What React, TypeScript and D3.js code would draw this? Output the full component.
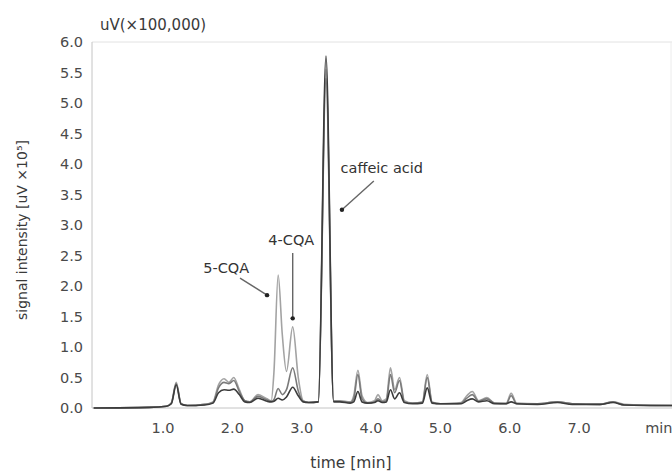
import React from "react";
import * as d3 from "d3";

const times = [0.0, 0.8, 1.05, 1.12, 1.19, 1.26, 1.35, 1.6, 1.72, 1.8, 1.88, 1.95, 2.02, 2.1, 2.18, 2.25, 2.37, 2.5, 2.56, 2.6, 2.66, 2.72, 2.78, 2.87, 2.95, 3.02, 3.1, 3.24, 3.35, 3.46, 3.55, 3.7, 3.75, 3.81, 3.87, 3.95, 4.05, 4.1, 4.16, 4.22, 4.28, 4.34, 4.41, 4.48, 4.6, 4.74, 4.81, 4.88, 5.0, 5.2, 5.3, 5.38, 5.46, 5.55, 5.67, 5.78, 5.95, 6.02, 6.1, 6.4, 6.69, 6.9, 7.3, 7.49, 7.65, 8.34];
const traceA = [0, 0.01, 0.03, 0.08, 0.42, 0.07, 0.04, 0.06, 0.1, 0.38, 0.48, 0.42, 0.5, 0.3, 0.12, 0.1, 0.22, 0.15, 0.12, 0.6, 2.18, 1.2, 0.6, 1.33, 0.5, 0.12, 0.09, 0.1, 5.55, 0.12, 0.12, 0.1, 0.2, 0.62, 0.2, 0.09, 0.12, 0.22, 0.12, 0.15, 0.66, 0.3, 0.5, 0.12, 0.08, 0.1, 0.55, 0.1, 0.07, 0.08, 0.09, 0.2, 0.27, 0.12, 0.17, 0.08, 0.08, 0.24, 0.08, 0.07, 0.1, 0.07, 0.06, 0.1, 0.06, 0.04];
const traceB = [0, 0.01, 0.03, 0.08, 0.4, 0.07, 0.04, 0.06, 0.09, 0.33, 0.42, 0.4, 0.45, 0.27, 0.12, 0.1, 0.19, 0.13, 0.11, 0.14, 0.32, 0.22, 0.3, 0.66, 0.28, 0.11, 0.09, 0.1, 5.4, 0.11, 0.11, 0.09, 0.15, 0.55, 0.15, 0.08, 0.1, 0.15, 0.1, 0.12, 0.55, 0.25, 0.45, 0.1, 0.08, 0.09, 0.5, 0.09, 0.07, 0.07, 0.08, 0.16, 0.22, 0.11, 0.15, 0.08, 0.07, 0.2, 0.07, 0.07, 0.1, 0.07, 0.06, 0.1, 0.05, 0.04];
const traceC = [0, 0.01, 0.03, 0.07, 0.38, 0.06, 0.04, 0.05, 0.08, 0.25, 0.3, 0.29, 0.31, 0.22, 0.1, 0.09, 0.16, 0.11, 0.1, 0.11, 0.16, 0.13, 0.18, 0.34, 0.2, 0.1, 0.09, 0.1, 5.77, 0.1, 0.1, 0.08, 0.1, 0.27, 0.1, 0.08, 0.09, 0.12, 0.09, 0.1, 0.3, 0.15, 0.25, 0.09, 0.07, 0.08, 0.33, 0.08, 0.07, 0.07, 0.07, 0.12, 0.15, 0.1, 0.12, 0.07, 0.07, 0.1, 0.07, 0.06, 0.09, 0.06, 0.06, 0.09, 0.05, 0.04];

const traceColors = ["#a3a3a3", "#7a7a7a", "#3c3c3c"];
const yTicks = [0, 0.5, 1, 1.5, 2, 2.5, 3, 3.5, 4, 4.5, 5, 5.5, 6];
const xTicks = [1, 2, 3, 4, 5, 6, 7];

const annotations = [
  { label: "caffeic acid", tx: 3.56, ty: 3.93, lx0: 4.04, ly0: 3.72, lx1: 3.58, ly1: 3.25, anchor: "start" },
  { label: "4-CQA", tx: 2.85, ty: 2.75, lx0: 2.87, ly0: 2.54, lx1: 2.87, ly1: 1.47, anchor: "middle" },
  { label: "5-CQA", tx: 1.91, ty: 2.3, lx0: 2.11, ly0: 2.13, lx1: 2.5, ly1: 1.85, anchor: "middle" },
];

export default function App() {
  const W = 672, H = 472;
  const x = d3.scaleLinear().domain([0, 8.34]).range([93.7, 672]);
  const y = d3.scaleLinear().domain([0, 6]).range([408, 42]);
  const line = d3
    .line<number>()
    .x((_, i) => x(times[i]))
    .y((d) => y(d))
    .curve(d3.curveMonotoneX);
  const seg = d3.line<[number, number]>().x((d) => x(d[0])).y((d) => y(d[1]));
  const traces = [traceA, traceB, traceC];
  const font = "'DejaVu Sans', sans-serif";
  return (
    <svg width={W} height={H} style={{ position: "absolute", left: 0, top: 0, background: "#fff" }}>
      <rect width={W} height={H} fill="#fff" />
      <line x1={92} x2={672} y1={42} y2={42} stroke="#e2e2e2" />
      <line x1={671} x2={671} y1={42} y2={408} stroke="#ececec" />
      <line x1={92} x2={92} y1={42} y2={408} stroke="#c4c4c4" />
      <line x1={92} x2={672} y1={408} y2={408} stroke="#c4c4c4" />
      {yTicks.map((t) => (
        <text key={t} x={83} y={y(t)} dy="0.36em" textAnchor="end" fontFamily={font} fontSize={14.5} fill="#4a4a4a">
          {t.toFixed(1)}
        </text>
      ))}
      {xTicks.map((t) => (
        <text key={t} x={x(t)} y={433} textAnchor="middle" fontFamily={font} fontSize={14.5} fill="#4a4a4a">
          {t.toFixed(1)}
        </text>
      ))}
      <text x={x(8.15)} y={433} textAnchor="middle" fontFamily={font} fontSize={14.5} fill="#4a4a4a">min</text>
      <text x={100} y={30} fontFamily={font} fontSize={15} fill="#3a3a3a">uV(×100,000)</text>
      <text x={351} y={468} textAnchor="middle" fontFamily={font} fontSize={15.5} fill="#3a3a3a">time [min]</text>
      <text transform="translate(27,230) rotate(-90)" textAnchor="middle" fontFamily={font} fontSize={14} fill="#3a3a3a">
        signal intensity [uV ×10⁵]
      </text>
      <defs>
        <clipPath id="plot">
          <rect x={92} y={30} width={580} height={382} />
        </clipPath>
      </defs>
      <g clipPath="url(#plot)">
        {traces.map((tr, i) => (
          <path key={i} d={line(tr) || ""} fill="none" stroke={traceColors[i]} strokeWidth={1.6} strokeLinejoin="round" />
        ))}
      </g>
      {annotations.map((a) => (
        <g key={a.label}>
          <text x={x(a.tx)} y={y(a.ty)} dy="0.36em" textAnchor={a.anchor as any} fontFamily={font} fontSize={14.5} fill="#333">
            {a.label}
          </text>
          <path
            d={seg([[a.lx0, a.ly0], [a.lx1, a.ly1]]) || ""}
            fill="none"
            stroke="#666"
            strokeWidth={1.4}
          />
          <circle cx={x(a.lx1)} cy={y(a.ly1)} r={2.2} fill="#222" />
        </g>
      ))}
    </svg>
  );
}
